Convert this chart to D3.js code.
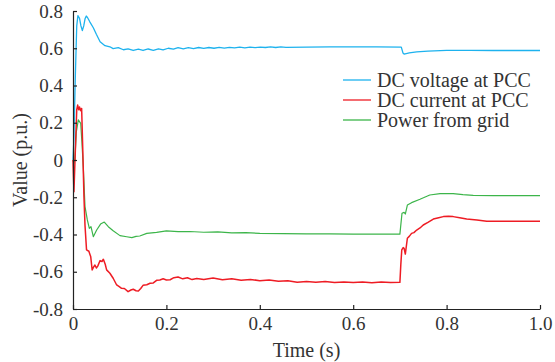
<!DOCTYPE html>
<html><head><meta charset="utf-8">
<script src="https://cdn.jsdelivr.net/npm/d3@7"></script>
<style>body{margin:0;background:#fff}svg{display:block}svg text{font-family:'Liberation Serif','Times New Roman',serif}</style>
</head><body>
<script>
const xTicks = [0, 0.2, 0.4, 0.6, 0.8, 1.0];
const yTicks = [-0.8, -0.6, -0.4, -0.2, 0, 0.2, 0.4, 0.6, 0.8];
const seriesNames = ["DC voltage at PCC", "DC current at PCC", "Power from grid"];
const seriesColors = ["#1db2ee", "#ee1c24", "#3cb54a"];

const timeV = [0, 0.002, 0.005, 0.008, 0.0105, 0.014, 0.017, 0.020, 0.023, 0.026, 0.0285, 0.031, 0.036, 0.0435, 0.050, 0.058, 0.0685, 0.079, 0.086, 0.097, 0.108, 0.118, 0.129, 0.140, 0.150, 0.161, 0.172, 0.183, 0.193, 0.204, 0.215, 0.225, 0.236, 0.247, 0.258, 0.269, 0.280, 0.291, 0.302, 0.313, 0.324, 0.335, 0.346, 0.357, 0.368, 0.379, 0.390, 0.401, 0.412, 0.423, 0.434, 0.445, 0.456, 0.50, 0.55, 0.60, 0.65, 0.703, 0.7065, 0.709, 0.72, 0.736, 0.76, 0.80, 0.85, 0.90, 0.95, 1.0];
const voltage = [0, 0.12, 0.45, 0.72, 0.775, 0.76, 0.72, 0.695, 0.72, 0.76, 0.773, 0.765, 0.742, 0.71, 0.675, 0.635, 0.614, 0.608, 0.598, 0.603, 0.592, 0.597, 0.588, 0.595, 0.588, 0.596, 0.589, 0.597, 0.591, 0.600, 0.595, 0.603, 0.597, 0.603, 0.598, 0.604, 0.599, 0.604, 0.600, 0.605, 0.601, 0.605, 0.602, 0.606, 0.602, 0.606, 0.603, 0.606, 0.604, 0.607, 0.604, 0.607, 0.605, 0.606, 0.607, 0.607, 0.607, 0.606, 0.575, 0.569, 0.575, 0.581, 0.585, 0.589, 0.589, 0.588, 0.588, 0.588];

const timeI = [0, 0.002, 0.005, 0.008, 0.010, 0.012, 0.014, 0.016, 0.0185, 0.021, 0.0235, 0.0257, 0.029, 0.034, 0.038, 0.041, 0.044, 0.047, 0.050, 0.053, 0.058, 0.062, 0.065, 0.069, 0.072, 0.079, 0.086, 0.0935, 0.099, 0.104, 0.110, 0.118, 0.124, 0.129, 0.135, 0.140, 0.145, 0.150, 0.158, 0.165, 0.172, 0.179, 0.186, 0.193, 0.200, 0.208, 0.216, 0.225, 0.235, 0.245, 0.255, 0.265, 0.28, 0.30, 0.32, 0.34, 0.36, 0.38, 0.40, 0.42, 0.44, 0.46, 0.48, 0.50, 0.52, 0.54, 0.56, 0.58, 0.60, 0.62, 0.64, 0.66, 0.68, 0.700, 0.702, 0.704, 0.707, 0.709, 0.7116, 0.716, 0.720, 0.725, 0.730, 0.736, 0.743, 0.75, 0.76, 0.7716, 0.783, 0.793, 0.804, 0.814, 0.828, 0.843, 0.865, 0.886, 0.92, 0.96, 1.0];
const current = [0, -0.17, 0.05, 0.27, 0.295, 0.27, 0.285, 0.265, 0.277, 0.05, -0.2, -0.35, -0.483, -0.49, -0.52, -0.59, -0.575, -0.564, -0.58, -0.57, -0.54, -0.545, -0.533, -0.56, -0.59, -0.608, -0.635, -0.671, -0.68, -0.689, -0.69, -0.707, -0.698, -0.694, -0.702, -0.703, -0.69, -0.673, -0.67, -0.662, -0.66, -0.646, -0.644, -0.638, -0.644, -0.643, -0.632, -0.628, -0.638, -0.632, -0.642, -0.636, -0.641, -0.634, -0.643, -0.638, -0.646, -0.641, -0.648, -0.644, -0.651, -0.648, -0.656, -0.652, -0.657, -0.653, -0.658, -0.655, -0.658, -0.655, -0.659, -0.655, -0.658, -0.657, -0.56, -0.483, -0.47, -0.474, -0.505, -0.42, -0.41, -0.394, -0.39, -0.376, -0.365, -0.349, -0.335, -0.317, -0.31, -0.304, -0.302, -0.304, -0.31, -0.317, -0.322, -0.329, -0.329, -0.329, -0.329];

const timeP = [0, 0.002, 0.004, 0.007, 0.0114, 0.0165, 0.019, 0.022, 0.0257, 0.0307, 0.035, 0.0385, 0.0435, 0.0507, 0.059, 0.067, 0.0756, 0.086, 0.1006, 0.115, 0.126, 0.135, 0.143, 0.158, 0.179, 0.2, 0.225, 0.25, 0.28, 0.31, 0.34, 0.37, 0.40, 0.45, 0.50, 0.55, 0.60, 0.65, 0.7, 0.7016, 0.7045, 0.709, 0.7116, 0.716, 0.725, 0.743, 0.764, 0.786, 0.814, 0.835, 0.857, 0.9, 0.95, 1.0];
const power = [0, -0.018, 0.0, 0.15, 0.215, 0.197, 0.1, -0.036, -0.25, -0.322, -0.367, -0.358, -0.412, -0.376, -0.344, -0.333, -0.358, -0.38, -0.406, -0.412, -0.417, -0.41, -0.408, -0.394, -0.389, -0.381, -0.385, -0.384, -0.388, -0.386, -0.391, -0.39, -0.394, -0.395, -0.397, -0.397, -0.398, -0.398, -0.398, -0.358, -0.286, -0.281, -0.29, -0.242, -0.229, -0.211, -0.188, -0.181, -0.181, -0.186, -0.19, -0.191, -0.191, -0.191];

const W = 555, H = 362;
const m = {left: 73, right: 15, top: 11, bottom: 53};
const svg = d3.select("body").append("svg").attr("width", W).attr("height", H);
const x = d3.scaleLinear().domain([0, 1]).range([m.left, W - m.right]);
const y = d3.scaleLinear().domain([-0.8, 0.8]).range([H - m.bottom, m.top]);
const fmt = d => d === 0 ? "0" : d.toFixed(1);
const font = "'Liberation Serif', 'Times New Roman', serif";

const series = [
  {t: timeV, v: voltage, w: 1.3},
  {t: timeI, v: current, w: 1.5},
  {t: timeP, v: power, w: 1.2}
];
const line = d3.line().x(d => x(d[0])).y(d => y(d[1]));
[2, 1, 0].forEach(i => {
  const s = series[i];
  svg.append("path").datum(s.t.map((t, k) => [t, s.v[k]]))
    .attr("fill", "none").attr("stroke", seriesColors[i])
    .attr("stroke-width", s.w).attr("stroke-linejoin", "round").attr("d", line);
});

const gx = svg.append("g").attr("transform", `translate(0,${H - m.bottom})`)
  .call(d3.axisBottom(x).tickValues(xTicks).tickFormat(fmt).tickSizeInner(-4).tickSizeOuter(0).tickPadding(8));
const gy = svg.append("g").attr("transform", `translate(${m.left},0)`)
  .call(d3.axisLeft(y).tickValues(yTicks).tickFormat(fmt).tickSizeInner(-4).tickSizeOuter(0).tickPadding(10));
[gx, gy].forEach(g => {
  g.attr("font-family", null).attr("font-size", null);
  g.select(".domain").attr("stroke", "#222").attr("stroke-width", 1.2);
  g.selectAll(".tick line").attr("stroke", "#222").attr("stroke-width", 1.2);
  g.selectAll(".tick text").style("font-family", font).style("font-size", "19px").attr("fill", "#333");
});

svg.append("text").attr("x", (m.left + W - m.right) / 2).attr("y", 357)
  .attr("text-anchor", "middle").style("font-family", font).style("font-size", "20px").attr("fill", "#333")
  .text("Time (s)");
svg.append("text").attr("transform", `translate(27,${(m.top + H - m.bottom) / 2}) rotate(-90)`)
  .attr("text-anchor", "middle").style("font-family", font).style("font-size", "20px").attr("fill", "#333")
  .text("Value (p.u.)");

const leg = svg.append("g");
seriesNames.forEach((name, i) => {
  const ly = 80 + i * 20;
  leg.append("line").attr("x1", 343).attr("x2", 371).attr("y1", ly).attr("y2", ly)
    .attr("stroke", seriesColors[i]).attr("stroke-width", 1.3);
  leg.append("text").attr("x", 377).attr("y", ly + 7).style("font-family", font)
    .style("font-size", "20px").attr("fill", "#333").text(name);
});
</script>
</body></html>
